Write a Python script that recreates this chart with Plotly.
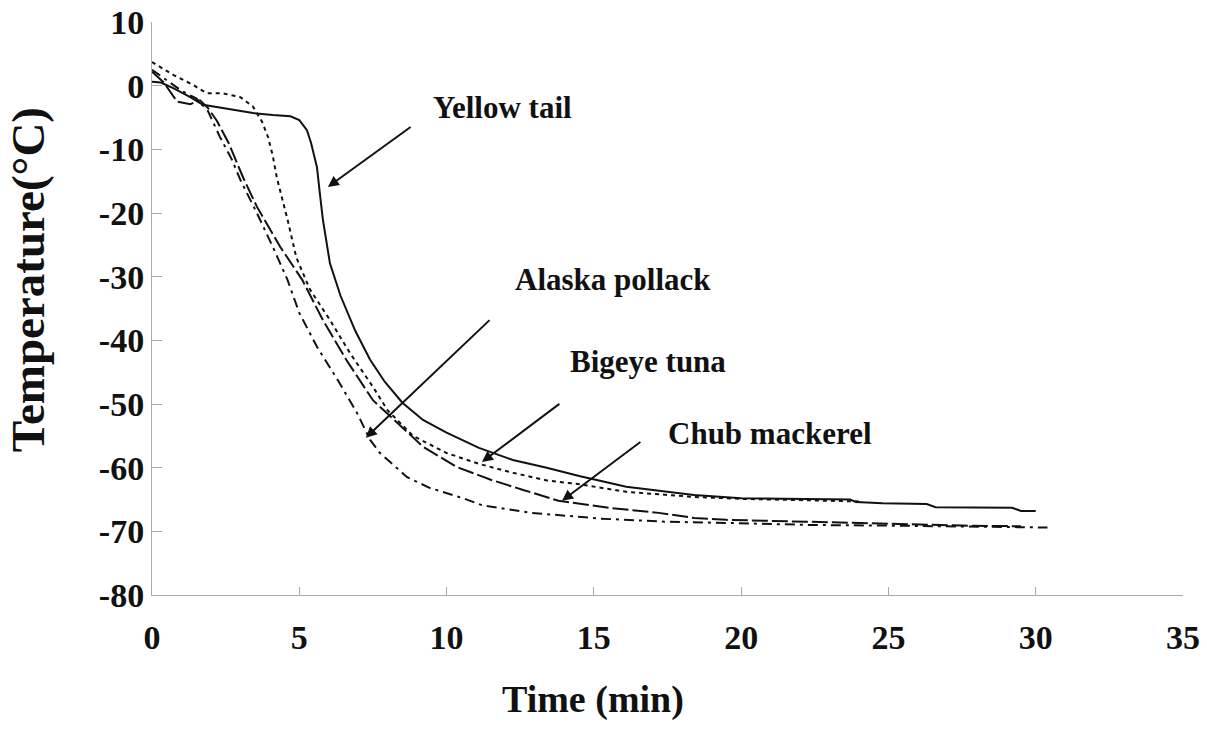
import plotly.graph_objects as go

# ---- data ----
yellow_x = [0, 0.3, 0.72, 1.3, 1.73, 2.4, 3.43, 4.1, 4.7, 5.0, 5.26, 5.4, 5.6, 5.7, 5.8, 6.04, 6.4, 6.9, 7.4,
            7.9, 8.5, 9.2, 10.0, 11.1, 12.25, 13.4, 14.5, 16.1, 18.4, 20.0, 22.0, 23.7, 23.9, 24.8, 26.3, 26.6,
            29.2, 29.5, 30.0]
yellow_y = [0.6, 0.5, -0.4, -1.8, -3.0, -3.5, -4.3, -4.6, -4.8, -5.4, -7.0, -9.0, -12.8, -17.0, -21.0, -27.9,
            -33.0, -38.5, -43.0, -46.5, -49.8, -52.5, -54.5, -56.9, -58.8, -60.0, -61.3, -63.0, -64.3, -64.8,
            -64.9, -65.0, -65.4, -65.6, -65.7, -66.2, -66.3, -66.8, -66.8]

bigeye_x = [0, 0.72, 1.4, 1.86, 2.4, 3.0, 3.43, 3.74, 3.94, 4.1, 4.24, 4.6, 4.9, 5.36, 6.04, 6.72, 7.5, 8.0,
            8.86, 10.0, 11.1, 12.25, 13.4, 14.5, 16.1, 18.4, 20.0, 22.0, 24.0]
bigeye_y = [3.7, 1.7, 0.1, -1.2, -1.2, -1.8, -3.3, -5.7, -8.1, -11.0, -14.5, -21.0, -27.0, -32.0, -36.8, -42.0,
            -47.3, -51.0, -55.0, -57.7, -59.4, -60.8, -62.0, -62.6, -63.8, -64.6, -64.9, -65.1, -65.3]

chub_x = [0, 0.4, 0.85, 1.3, 1.63, 1.9, 2.2, 2.6, 3.1, 3.56, 4.35, 5.1, 5.8, 6.6, 7.5, 8.1, 9.2, 10.35, 11.5,
          12.6, 13.8, 15.5, 17.2, 18.4, 19.5, 22.3, 25.0, 27.5, 29.5]
chub_y = [2.2, 0.5, -2.5, -2.9, -2.3, -3.5, -5.5, -9.0, -14.5, -19.0, -25.3, -30.5, -36.8, -43.1, -49.4, -52.0,
          -56.7, -59.9, -61.9, -63.5, -65.2, -66.3, -67.1, -67.9, -68.2, -68.5, -68.8, -69.1, -69.2]

alaska_x = [0, 0.5, 1.0, 1.5, 1.9, 2.3, 2.7, 3.0, 3.56, 4.1, 4.6, 5.0, 5.6, 6.3, 6.96, 7.4, 7.74, 8.3, 8.66,
            9.44, 10.56, 11.2, 12.9, 15.2, 17.5, 19.7, 22.3, 25.0, 28.8, 30.4]
alaska_y = [2.5, 0.8, -0.8, -2.0, -4.0, -8.0, -11.5, -14.8, -20.0, -25.3, -30.5, -35.7, -41.0, -46.2, -51.4,
            -55.6, -57.7, -60.0, -61.5, -63.2, -64.8, -65.9, -67.1, -68.0, -68.5, -68.7, -69.0, -69.1, -69.3,
            -69.4]

x_ticks = [0, 5, 10, 15, 20, 25, 30, 35]
y_ticks = [10, 0, -10, -20, -30, -40, -50, -60, -70, -80]

FONT = "Liberation Serif"

fig = go.Figure()
fig.add_trace(go.Scatter(x=yellow_x, y=yellow_y, mode="lines", name="Yellow tail",
                         line=dict(color="#111", width=2, dash="solid")))
fig.add_trace(go.Scatter(x=bigeye_x, y=bigeye_y, mode="lines", name="Bigeye tuna",
                         line=dict(color="#111", width=2, dash="4px,4px")))
fig.add_trace(go.Scatter(x=chub_x, y=chub_y, mode="lines", name="Chub mackerel",
                         line=dict(color="#111", width=2, dash="16px,4px")))
fig.add_trace(go.Scatter(x=alaska_x, y=alaska_y, mode="lines", name="Alaska pollack",
                         line=dict(color="#111", width=2, dash="10px,5px,3px,5px")))

labels = [
    ("Yellow tail", 11.91, -3.5, 8.83, -6.33, 5.97, -15.9),
    ("Alaska pollack", 15.65, -30.5, 11.51, -36.6, 7.26, -55.3),
    ("Bigeye tuna", 16.84, -43.4, 13.88, -49.8, 11.2, -59.1),
    ("Chub mackerel", 20.98, -54.6, 16.63, -55.8, 13.92, -65.2),
]
annotations = []
for text, tx, ty, x0, y0, x1, y1 in labels:
    annotations.append(dict(x=tx, y=ty, xref="x", yref="y", text=text, showarrow=False,
                            xanchor="center", yanchor="middle",
                            font=dict(family=FONT, size=31, color="#111", weight="bold")))
    annotations.append(dict(x=x1, y=y1, ax=x0, ay=y0, xref="x", yref="y", axref="x", ayref="y",
                            text="", showarrow=True, arrowhead=2, arrowsize=1.1, arrowwidth=2,
                            arrowcolor="#111"))

annotations.append(dict(x=0.428, y=-0.183, xref="paper", yref="paper", text="Time (min)",
                        xanchor="center", yanchor="middle", showarrow=False,
                        font=dict(family=FONT, size=38, color="#111", weight="bold")))
annotations.append(dict(x=-0.12, y=0.55, xref="paper", yref="paper", text="Temperature(°C)",
                        xanchor="center", yanchor="middle", textangle=-90, showarrow=False,
                        font=dict(family=FONT, size=47, color="#111", weight="bold")))

fig.update_layout(
    width=1207, height=744,
    margin=dict(l=152, r=24, t=22, b=149, autoexpand=False),
    paper_bgcolor="white", plot_bgcolor="white",
    showlegend=False,
    annotations=annotations,
)
fig.update_xaxes(range=[0, 35], tickvals=x_ticks, ticktext=[str(v) for v in x_ticks],
                 showgrid=False, zeroline=False, showline=True, linecolor="#aaa", linewidth=1,
                 ticks="inside", ticklen=8, tickcolor="#aaa", ticklabelstandoff=12, automargin=False,
                 tickfont=dict(family=FONT, size=34, color="#111", weight="bold"))
fig.update_yaxes(range=[-80, 10], tickvals=y_ticks, ticktext=[str(v) for v in y_ticks],
                 showgrid=False, zeroline=False, showline=True, linecolor="#aaa", linewidth=1,
                 ticks="inside", ticklen=10, tickcolor="#aaa", automargin=False,
                 tickfont=dict(family=FONT, size=34, color="#111", weight="bold"))

fig.write_html("out.html")
